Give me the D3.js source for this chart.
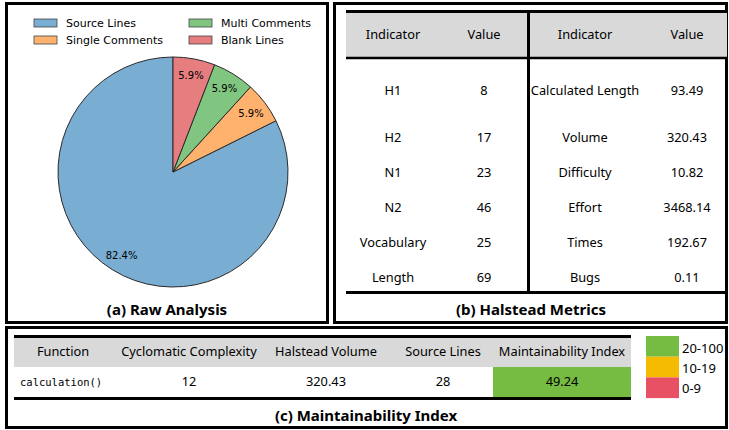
<!DOCTYPE html>
<html>
<head>
<meta charset="utf-8">
<script src="https://cdn.jsdelivr.net/npm/d3@7"></script>
<style>
  body { margin: 0; background: #fff; }
  text { font-family: "Noto Sans", "Open Sans", sans-serif; }
</style>
</head>
<body>
<div id="chart"></div>
<script>
// raw analysis (pie)
const pieLabels = ["Source Lines", "Single Comments", "Multi Comments", "Blank Lines"];
const pieValues = [28, 2, 2, 2];
const pieColors = ["#79add2", "#ffb26e", "#80c680", "#e67d7e"];

// halstead metrics
const halLeftNames = ["H1", "H2", "N1", "N2", "Vocabulary", "Length"];
const halLeftValues = ["8", "17", "23", "46", "25", "69"];
const halRightNames = ["Calculated Length", "Volume", "Difficulty", "Effort", "Times", "Bugs"];
const halRightValues = ["93.49", "320.43", "10.82", "3468.14", "192.67", "0.11"];

// maintainability index
const miColumns = ["Function", "Cyclomatic Complexity", "Halstead Volume", "Source Lines", "Maintainability Index"];
const miRow = ["calculation()", "12", "320.43", "28", "49.24"];
const miLegend = ["20-100", "10-19", "0-9"];
const miColors = ["#76bb42", "#f5bb00", "#e85063"];

const width = 729, height = 430;
const svg = d3.select("#chart").append("svg")
    .attr("width", width)
    .attr("height", height);

// panel frames
function frame(x, y, w, h) {
    svg.append("rect")
        .attr("x", x).attr("y", y).attr("width", w).attr("height", h)
        .attr("fill", "none").attr("stroke", "#000").attr("stroke-width", 3);
}
frame(6.5, 3.5, 321, 319);
frame(334.5, 3.5, 392, 319);
frame(6.5, 327.5, 720, 100);

// ---------- (a) pie ----------
const cx = 173, cy = 172, R = 115;
const pie = d3.pie().sort(null).startAngle(0).endAngle(-2 * Math.PI);
const arcs = pie(pieValues);
const arc = d3.arc().innerRadius(0).outerRadius(R);
const labelArc = d3.arc().innerRadius(R * 0.85).outerRadius(R * 0.85);
const total = d3.sum(pieValues);

const gPie = svg.append("g").attr("transform", `translate(${cx},${cy})`);
gPie.selectAll("path").data(arcs).join("path")
    .attr("d", arc)
    .attr("fill", (d, i) => pieColors[i])
    .attr("stroke", "#2a2a2a")
    .attr("stroke-width", 1);

gPie.selectAll("text.pct").data(arcs).join("text")
    .attr("class", "pct")
    .attr("transform", d => `translate(${labelArc.centroid(d)})`)
    .attr("text-anchor", "middle")
    .attr("dy", "0.35em")
    .style("font-family", "DejaVu Sans")
    .style("font-size", "10px")
    .text(d => (d.value / total * 100).toFixed(1) + "%");

// legend, two columns filled column-first
const legend = svg.append("g");
pieLabels.forEach((lab, i) => {
    const col = Math.floor(i / 2), row = i % 2;
    const lx = 34 + col * 155, ly = 19 + row * 17;
    legend.append("rect")
        .attr("x", lx).attr("y", ly).attr("width", 23).attr("height", 8)
        .attr("fill", pieColors[i]).attr("stroke", "#444").attr("stroke-width", 0.8);
    legend.append("text")
        .attr("x", lx + 32).attr("y", ly + 4).attr("dy", "0.35em")
        .style("font-family", "DejaVu Sans").style("font-size", "11px")
        .text(lab);
});

svg.append("text")
    .attr("x", 167).attr("y", 315)
    .attr("text-anchor", "middle")
    .style("font-size", "15px").style("font-weight", "bold")
    .text("(a) Raw Analysis");

// ---------- (b) halstead table ----------
const tb = {left: 346, right: 727, top: 10, head: 57, bottom: 291, div: 528.5};
svg.append("rect")
    .attr("x", tb.left).attr("y", tb.top + 1.5)
    .attr("width", tb.right - tb.left).attr("height", tb.head - tb.top - 1.5)
    .attr("fill", "#d9d9d9");
[tb.top + 1.5, tb.head + 1, tb.bottom + 1.5].forEach((y, i) => {
    svg.append("line")
        .attr("x1", tb.left).attr("x2", tb.right)
        .attr("y1", y).attr("y2", y)
        .attr("stroke", "#000").attr("stroke-width", i === 1 ? 2.5 : 3);
});
svg.append("line")
    .attr("x1", tb.div).attr("x2", tb.div)
    .attr("y1", tb.top).attr("y2", tb.bottom)
    .attr("stroke", "#000").attr("stroke-width", 3);

const colX = [393, 484, 585, 687];
const headY = 35;
["Indicator", "Value", "Indicator", "Value"].forEach((h, i) => {
    svg.append("text")
        .attr("x", colX[i]).attr("y", headY).attr("dy", "0.35em")
        .attr("text-anchor", "middle")
        .style("font-size", "12.8px")
        .text(h);
});

// first row is taller than the rest
const rowY = i => i === 0 ? 91 : 138 + (i - 1) * 35;
const halCols = [halLeftNames, halLeftValues, halRightNames, halRightValues];
halCols.forEach((col, c) => {
    svg.append("g").selectAll("text").data(col).join("text")
        .attr("x", colX[c])
        .attr("y", (d, i) => rowY(i))
        .attr("dy", "0.35em")
        .attr("text-anchor", "middle")
        .style("font-size", "12.8px")
        .text(d => d);
});

svg.append("text")
    .attr("x", 531).attr("y", 315)
    .attr("text-anchor", "middle")
    .style("font-size", "15px").style("font-weight", "bold")
    .text("(b) Halstead Metrics");

// ---------- (c) maintainability table ----------
const tc = {left: 14, right: 631, top: 335, head: 367, bottom: 397, miLeft: 493};
svg.append("rect")
    .attr("x", tc.left).attr("y", tc.top + 1.5)
    .attr("width", tc.right - tc.left).attr("height", tc.head - tc.top - 1.5)
    .attr("fill", "#d9d9d9");

// colour of the index cell from the legend bins
const miScale = d3.scaleThreshold().domain([10, 20]).range(miColors.slice().reverse());
svg.append("rect")
    .attr("x", tc.miLeft).attr("y", tc.head)
    .attr("width", tc.right - tc.miLeft).attr("height", tc.bottom - tc.head)
    .attr("fill", miScale(+miRow[4]));

[tc.top + 1.5, tc.bottom + 1.5].forEach(y => {
    svg.append("line")
        .attr("x1", tc.left).attr("x2", tc.right)
        .attr("y1", y).attr("y2", y)
        .attr("stroke", "#000").attr("stroke-width", 3);
});

const miX = [63, 189, 326, 443, 562];
miColumns.forEach((h, i) => {
    svg.append("text")
        .attr("x", miX[i]).attr("y", 352).attr("dy", "0.35em")
        .attr("text-anchor", "middle")
        .style("font-size", "12.8px")
        .text(h);
});
miRow.forEach((v, i) => {
    const t = svg.append("text")
        .attr("y", 382).attr("dy", "0.35em")
        .text(v);
    if (i === 0) {
        t.attr("x", 20).style("font-family", "DejaVu Sans Mono").style("font-size", "10.5px");
    } else {
        t.attr("x", miX[i]).attr("text-anchor", "middle").style("font-size", "12.8px");
    }
});

// legend for the index bins
miLegend.forEach((lab, i) => {
    svg.append("rect")
        .attr("x", 646).attr("y", 336 + i * 20.7)
        .attr("width", 33).attr("height", 20.7)
        .attr("fill", miColors[i]);
    svg.append("text")
        .attr("x", 682).attr("y", 348 + i * 20).attr("dy", "0.35em")
        .style("font-size", "13px")
        .text(lab);
});

svg.append("text")
    .attr("x", 366).attr("y", 421)
    .attr("text-anchor", "middle")
    .style("font-size", "15px").style("font-weight", "bold")
    .text("(c) Maintainability Index");
</script>
</body>
</html>
